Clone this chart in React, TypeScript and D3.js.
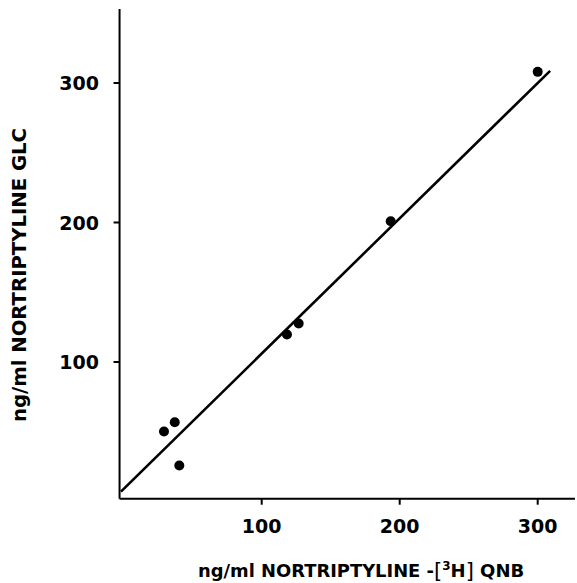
import React from "react";
import * as d3 from "d3";

const qnbValues = [29.2, 37, 40.3, 118.3, 126.8, 193.5, 300];
const glcValues = [50.2, 56.8, 25.8, 119.7, 127.6, 200.9, 308];
const xTicks = [100, 200, 300];
const yTicks = [100, 200, 300];
const fitIntercept = 9;
const fitSlope = 0.97;
const fitRange = [-2, 309];
const xTitle = "ng/ml  NORTRIPTYLINE -";
const yTitle = "ng/ml  NORTRIPTYLINE  GLC";

const W = 577;
const H = 583;
const FONT = "'DejaVu Sans', sans-serif";

export default function App() {
  const x = d3.scaleLinear().domain([0, 300]).range([123.7, 537.7]);
  const y = d3.scaleLinear().domain([0, 300]).range([501.5, 83]);
  const axisX = x(-3);
  const axisY = y(2);
  const xEnd = x(327);
  const yTop = y(353);

  const fit = d3
    .line<number>()
    .x((d) => x(d))
    .y((d) => y(fitIntercept + fitSlope * d));

  return (
    <svg
      width={W}
      height={H}
      style={{ position: "absolute", left: 0, top: 0, background: "#fff" }}
      fontFamily={FONT}
    >
      <rect width={W} height={H} fill="#fff" />
      {/* axes */}
      <line x1={axisX} x2={axisX} y1={yTop} y2={axisY} stroke="#000" strokeWidth={2} />
      <line x1={axisX} x2={xEnd} y1={axisY} y2={axisY} stroke="#000" strokeWidth={2} />
      {xTicks.map((t) => (
        <g key={"x" + t}>
          <line x1={x(t)} x2={x(t)} y1={axisY} y2={axisY + 6} stroke="#000" strokeWidth={2} />
          <text x={x(t)} y={533} textAnchor="middle" fontSize={19} fontWeight="bold">
            {t}
          </text>
        </g>
      ))}
      {yTicks.map((t) => (
        <g key={"y" + t}>
          <line x1={axisX - 6} x2={axisX} y1={y(t)} y2={y(t)} stroke="#000" strokeWidth={2} />
          <text x={99} y={y(t) + 7} textAnchor="end" fontSize={19} fontWeight="bold">
            {t}
          </text>
        </g>
      ))}
      {/* fit line */}
      <path d={fit(fitRange) || ""} fill="none" stroke="#000" strokeWidth={2.6} />
      {/* points */}
      {qnbValues.map((v, i) => (
        <circle key={i} cx={x(v)} cy={y(glcValues[i])} r={5} fill="#000" />
      ))}
      {/* x title */}
      <text x={198} y={577} fontSize={18} fontWeight="bold">
        <tspan textLength={236} lengthAdjust="spacingAndGlyphs">{xTitle}</tspan>
        <tspan fontSize={21} fontWeight="normal" dy={1}>[</tspan>
        <tspan fontSize={12} dy={-8}>3</tspan>
        <tspan dy={7}>H</tspan>
        <tspan fontSize={21} fontWeight="normal" dy={1}>]</tspan>
        <tspan dy={-1}> QNB</tspan>
      </text>
      {/* y title */}
      <text
        transform={`translate(26, 275) rotate(-90)`}
        textAnchor="middle"
        fontSize={19}
        fontWeight="bold"
        textLength={294}
        lengthAdjust="spacingAndGlyphs"
      >
        {yTitle}
      </text>
    </svg>
  );
}
